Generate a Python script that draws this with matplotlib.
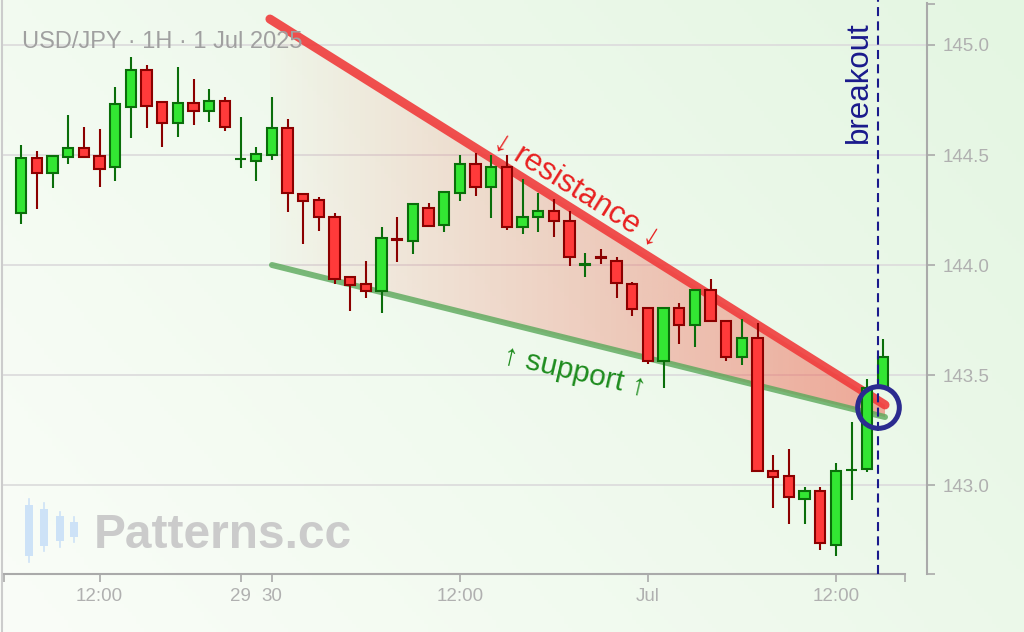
import matplotlib
matplotlib.use("Agg")
import matplotlib.pyplot as plt
import numpy as np
from matplotlib.patches import Polygon

plt.rcParams["font.family"] = ["Liberation Sans", "DejaVu Sans"]
plt.rcParams["lines.scale_dashes"] = False

# USD/JPY hourly candles
opens = [144.236, 144.486, 144.418, 144.491, 144.532, 144.495, 144.445, 144.718,
         144.886, 144.741, 144.645, 144.736, 144.700, 144.745, 144.480, 144.473,
         144.500, 144.623, 144.323, 144.295, 144.218, 143.945, 143.914, 143.882,
         144.120, 144.109, 144.259, 144.182, 144.327, 144.459, 144.355, 144.445,
         144.173, 144.218, 144.245, 144.200, 144.000, 144.038, 144.018, 143.914,
         143.805, 143.564, 143.805, 143.727, 143.886, 143.745, 143.582, 143.668,
         143.064, 143.041, 142.936, 142.973, 142.727, 143.066, 143.073, 143.441]
highs = [144.545, 144.518, 144.495, 144.682, 144.627, 144.618, 144.809, 144.945,
         144.909, 144.745, 144.900, 144.845, 144.800, 144.764, 144.673, 144.536,
         144.764, 144.664, 144.327, 144.309, 144.236, 143.945, 144.018, 144.173,
         144.218, 144.280, 144.282, 144.335, 144.500, 144.509, 144.500, 144.500,
         144.391, 144.327, 144.300, 144.245, 144.055, 144.073, 144.036, 143.923,
         143.805, 143.810, 143.827, 143.890, 143.936, 143.750, 143.755, 143.736,
         143.136, 143.164, 142.991, 142.990, 143.100, 143.286, 143.482, 143.664]
lows = [144.186, 144.255, 144.350, 144.459, 144.486, 144.355, 144.382, 144.577,
        144.623, 144.536, 144.582, 144.636, 144.650, 144.609, 144.441, 144.382,
        144.477, 144.241, 144.095, 144.155, 143.914, 143.791, 143.850, 143.782,
        144.014, 144.050, 144.175, 144.150, 144.291, 144.314, 144.214, 144.159,
        144.141, 144.150, 144.127, 143.995, 143.945, 144.005, 143.850, 143.768,
        143.550, 143.441, 143.641, 143.627, 143.740, 143.564, 143.545, 143.060,
        142.895, 142.823, 142.823, 142.705, 142.677, 142.932, 143.059, 143.440]
closes = [144.486, 144.418, 144.495, 144.532, 144.491, 144.436, 144.732, 144.886,
          144.723, 144.645, 144.736, 144.700, 144.745, 144.627, 144.484, 144.505,
          144.623, 144.327, 144.291, 144.218, 143.936, 143.909, 143.882, 144.123,
          144.115, 144.277, 144.177, 144.332, 144.459, 144.355, 144.445, 144.173,
          144.218, 144.245, 144.200, 144.036, 144.004, 144.034, 143.918, 143.800,
          143.564, 143.805, 143.727, 143.886, 143.745, 143.582, 143.668, 143.064,
          143.036, 142.945, 142.973, 142.736, 143.064, 143.070, 143.441, 143.582]

tick_pos = [5, 14, 16, 28, 40, 52]
tick_labels = ["12:00", "29", "30", "12:00", "Jul", "12:00"]
price_ticks = [143.0, 143.5, 144.0, 144.5, 145.0]

resistance_x = [15.87, 55.13]
resistance_y = [145.118, 143.364]
support_x = [16.0, 55.13]
support_y = [144.0, 143.309]
breakout_x = 54.68
breakout_y = 143.355

x_lim = (-1.168, 57.81)
x_axis_end = 56.4
y_lim = (142.5955, 145.1909)

GRAY = "#aaaaaa"


def main():
    fig = plt.figure(figsize=(10.24, 6.32), dpi=100)

    # pale green background gradient over the whole figure
    bg = fig.add_axes([0, 0, 1, 1], zorder=-10)
    gx = np.linspace(0, 1, 256)[None, :]
    gy = np.linspace(0, 1, 160)[:, None]
    t = np.clip(0.65 * gx + 0.35 * (1 - gy), 0, 1)
    c0 = np.array([250, 253, 248]) / 255
    c1 = np.array([228, 246, 226]) / 255
    grad = c0 + (c1 - c0) * t[..., None]
    bg.imshow(grad, extent=[0, 1, 0, 1], aspect="auto", origin="upper")
    bg.set_axis_off()

    ax = fig.add_axes([3 / 1024, 58 / 632, 924 / 1024, 571 / 632])
    ax.set_facecolor("none")

    # wedge fill, fading in to the right
    xs = np.linspace(resistance_x[0], resistance_x[1], 300)
    top = np.interp(xs, resistance_x, resistance_y)
    bot = np.interp(xs, support_x, support_y)
    verts = np.vstack([np.column_stack([xs, top]), np.column_stack([xs[::-1], bot[::-1]])])
    clip = Polygon(verts, closed=True, fc="none", ec="none")
    ax.add_patch(clip)
    fill = np.zeros((2, 300, 4))
    fill[..., :3] = np.array([240, 80, 62]) / 255
    fill[..., 3] = np.linspace(0.02, 0.48, 300)
    im = ax.imshow(fill, extent=[xs[0], xs[-1], min(bot), max(top)],
                   aspect="auto", origin="lower", zorder=1)
    im.set_clip_path(clip)

    for y in price_ticks:
        ax.axhline(y, color="#dddddd", lw=1.3, zorder=0.5)

    ax.plot(resistance_x, resistance_y, color="#f03c3c", lw=6.5, alpha=0.9,
            solid_capstyle="round", zorder=2)
    ax.plot(support_x, support_y, color="#5aa85a", lw=4.3, alpha=0.8,
            solid_capstyle="round", zorder=2)

    o = np.array(opens)
    c = np.array(closes)
    idx = np.arange(len(o))
    up = c >= o
    edge = np.where(up, "#0a6e0a", "#8b0000")
    face = np.where(up, "#33e633", "#ff3a3a")
    ax.vlines(idx, lows, highs, colors=edge, lw=1.5, zorder=3)
    ax.bar(idx, np.abs(c - o), bottom=np.minimum(o, c), width=0.66,
           color=face, edgecolor=edge, linewidth=1.5, zorder=4)

    ax.axvline(breakout_x, ymax=1.01, clip_on=False, color="#1a1a8c", lw=1.5,
               dashes=(6.5, 3.8), zorder=5)
    ax.plot([breakout_x], [breakout_y], "o", ms=30, mfc="none", mec="#2b2b8f",
            mew=3.6, zorder=6)

    ax.text(35.47, 144.341, "↓ resistance ↓", color="#e82020", fontsize=22.5,
            rotation=-32, ha="center", va="center", rotation_mode="anchor")
    ax.text(35.3, 143.514, "↑ support ↑", color="#1e8c1e", fontsize=21.5,
            rotation=-13, ha="center", va="center", rotation_mode="anchor")
    ax.text(53.45, 144.832, "breakout", color="#1a1a8c", fontsize=22.5,
            rotation=90, ha="center", va="center")
    ax.text(0.0206, 0.9317, "USD/JPY · 1H · 1 Jul 2025", transform=ax.transAxes,
            color="#a0a0a0", fontsize=17, ha="left", va="center")

    ax.set_xlim(*x_lim)
    ax.set_ylim(*y_lim)

    ax.set_xticks(tick_pos)
    ax.set_xticklabels(tick_labels)
    ax.set_xticks([x_lim[0] + 0.05, x_axis_end], minor=True)
    ax.yaxis.tick_right()
    ax.set_yticks(price_ticks)
    ax.set_yticklabels([f"{v:.1f}" for v in price_ticks])
    ax.set_yticks([y_lim[0], y_lim[1] - 0.005], minor=True)
    ax.tick_params(which="both", direction="out", length=6, width=1.2, color=GRAY,
                   labelcolor="#b0b0b0", labelsize=13.5)
    ax.tick_params(axis="x", pad=4)
    ax.tick_params(axis="y", pad=5)

    for side in ["left", "top"]:
        ax.spines[side].set_visible(False)
    ax.spines["bottom"].set_bounds(x_lim[0] + 0.05, x_axis_end)
    for side in ["bottom", "right"]:
        ax.spines[side].set_color(GRAY)
        ax.spines[side].set_linewidth(1.5)

    # overlay in pixel coordinates: frame edge and watermark
    ov = fig.add_axes([0, 0, 1, 1], zorder=-5)
    ov.set_xlim(0, 1024)
    ov.set_ylim(632, 0)
    ov.set_axis_off()
    ov.axvline(2, color="#cccccc", lw=1.5)
    for cx, b0, b1, w0, w1 in [(29, 505, 556, 499, 562), (44, 509, 546, 503, 551),
                               (60, 516, 541, 512, 547), (74, 522, 537, 517, 542)]:
        ov.plot([cx, cx], [w0, w1], color="#cde2f7", lw=1.2)
        ov.add_patch(plt.Rectangle((cx - 4, b0), 8, b1 - b0, fc="#cde2f7", ec="none"))
    ov.text(94, 536, "Patterns.cc", color="#cbcbcb", fontsize=34.5, fontweight="bold",
            ha="left", va="center")

    fig.savefig("out.png", dpi=100)


if __name__ == "__main__":
    main()
